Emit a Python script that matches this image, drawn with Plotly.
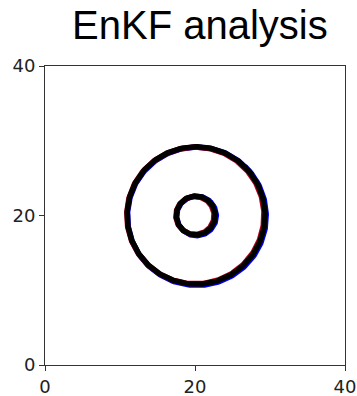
import numpy as np
import plotly.graph_objects as go

# Contour circles (center x, center y, radius) for each field
truth_cx = [20.25, 20.2]
truth_cy = [19.9, 19.95]
truth_r = [9.25, 2.65]
analysis_cx = [20.05, 20.0]
analysis_cy = [20.0, 20.0]
analysis_r = [9.15, 2.55]
ens_cx = [20.15, 20.1]
ens_cy = [20.0, 20.0]
ens_r = [9.2, 2.6]

x_ticks = [0, 20, 40]
y_ticks = [0, 20, 40]

# parameter along each closed contour (slight overlap to hide the seam)
theta = np.linspace(0.5, 0.5 + 2 * np.pi + 0.3, 400)

fig = go.Figure()

def add_circles(cxs, cys, rs, color, width):
    for cx, cy, r in zip(cxs, cys, rs):
        fig.add_trace(go.Scatter(
            x=cx + r * np.cos(theta), y=cy + r * np.sin(theta),
            mode="lines", line=dict(color=color, width=width),
            showlegend=False, hoverinfo="skip"))

add_circles(truth_cx, truth_cy, truth_r, "blue", 5.5)
add_circles(analysis_cx, analysis_cy, analysis_r, "#b00020", 5.5)
add_circles(ens_cx, ens_cy, ens_r, "black", 5.5)

axis_common = dict(
    range=[0, 40], showgrid=False, zeroline=False, automargin=False,
    showline=True, linecolor="#333", linewidth=1, mirror=True,
    ticks="outside", ticklen=5, tickcolor="#333",
    tickfont=dict(family="DejaVu Sans", size=18, color="#222"),
)

fig.update_layout(
    width=357, height=396,
    margin=dict(l=45, r=12, t=66, b=31),
    paper_bgcolor="white", plot_bgcolor="white",
    title=dict(text="EnKF analysis", x=0.56, xanchor="center", y=0.938, yanchor="middle",
               automargin=False,
               font=dict(family="Liberation Sans, Arial", size=40, color="black")),
    xaxis=dict(tickvals=x_ticks, **axis_common),
    yaxis=dict(tickvals=y_ticks, **axis_common),
)

fig.write_html("out.html")
